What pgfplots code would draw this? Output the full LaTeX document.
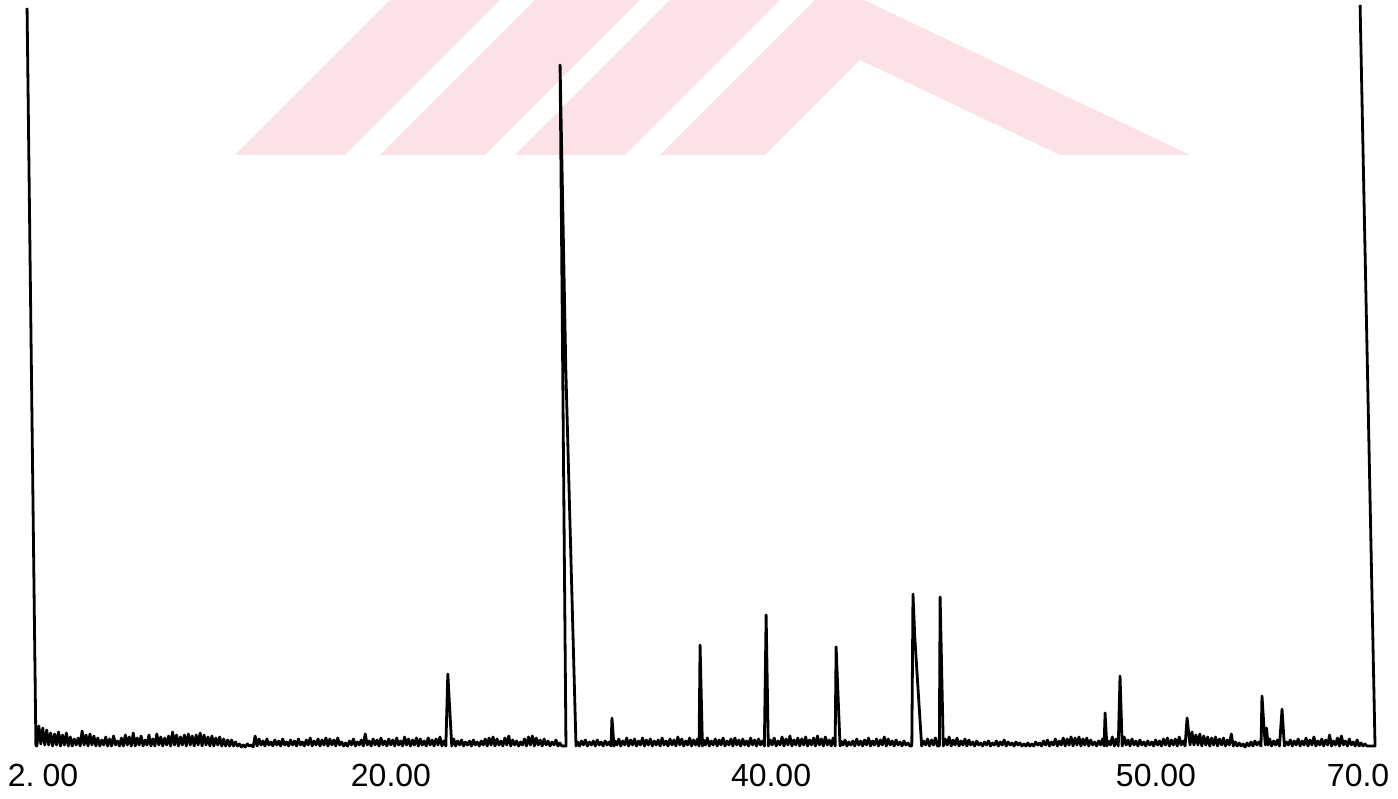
\documentclass[border=0pt]{standalone}
\usepackage{pgfplots}
\pgfplotsset{compat=1.18}
\usepackage{fontspec}
\setmainfont{Liberation Sans}
\definecolor{wmpink}{RGB}{252,226,231}
\begin{document}
\begin{tikzpicture}
\path[use as bounding box] (-31pt,-51pt) rectangle (1367pt,748pt);
% background watermark
\fill[wmpink] (204pt,593pt) -- (314pt,593pt) -- (469pt,748pt) -- (359pt,748pt) -- cycle;
\fill[wmpink] (349pt,593pt) -- (454pt,593pt) -- (609pt,748pt) -- (504pt,748pt) -- cycle;
\fill[wmpink] (484pt,593pt) -- (594pt,593pt) -- (749pt,748pt) -- (639pt,748pt) -- cycle;
\fill[wmpink] (629pt,593pt) -- (784pt,748pt) -- (833pt,748pt) -- (1159pt,593pt) -- (1029pt,593pt) -- (829pt,688pt) -- (734pt,593pt) -- cycle;
\begin{axis}[
  at={(0pt,0pt)}, anchor=south west,
  scale only axis, width=1333pt, height=748pt,
  xmin=2, xmax=69.8, ymin=0, ymax=748,
  clip=false,
  axis line style={draw=none},
  ytick=\empty,
  xtick={2.61,20.31,39.64,59.22,69.5},
  xticklabels={2.\kern8pt00,20.00,40.00,50.00,70.0},
  major tick length=0pt,
  /pgf/number format/assume math mode=true,
  xticklabel style={font=\fontsize{32}{36}\selectfont, anchor=base, yshift=-39pt, inner sep=0pt},
]
\addplot[black, line width=2.8pt, line join=round] coordinates {
(1.8,740)(2.25,2)(2.3,2)(2.4,22)(2.5,4)(2.6,20)(2.7,3)(2.8,18)(2.9,3)(3.0,15)
(3.1,2)(3.2,14)(3.3,3)(3.4,16)(3.5,2)(3.6,13)(3.7,3)(3.8,15)(3.9,2)(4.0,11)
(4.1,2)(4.2,9)(4.3,3)(4.4,10)(4.5,2)(4.6,17)(4.7,3)(4.8,13)(4.9,2)(5.0,14)
(5.1,3)(5.2,12)(5.3,2)(5.4,10)(5.5,2)(5.6,8)(5.7,3)(5.8,11)(5.9,2)(6.0,9)
(6.1,2)(6.2,12)(6.3,3)(6.4,7)(6.5,2)(6.6,10)(6.7,2)(6.8,13)(6.9,3)(7.0,11)
(7.1,2)(7.2,15)(7.3,2)(7.4,10)(7.5,3)(7.6,12)(7.7,2)(7.8,8)(7.9,3)(8.0,13)
(8.1,2)(8.2,9)(8.3,2)(8.4,14)(8.5,3)(8.6,11)(8.7,2)(8.8,10)(8.9,3)(9.0,12)
(9.1,2)(9.2,16)(9.3,3)(9.4,13)(9.5,2)(9.6,11)(9.7,3)(9.8,13)(9.9,2)(10.0,14)
(10.1,3)(10.2,12)(10.3,2)(10.4,13)(10.5,3)(10.6,15)(10.7,2)(10.8,13)(10.9,3)(11.0,11)
(11.1,2)(11.2,12)(11.3,2)(11.4,10)(11.5,3)(11.6,11)(11.7,2)(11.8,9)(11.9,2)(12.0,8)
(12.1,2)(12.2,8)(12.3,2)(12.4,6)(12.5,2)(12.6,4)(12.7,1)(12.8,3)(12.9,1)(13.0,4)
(13.1,2)(13.2,3)(13.3,1)(13.4,12)(13.5,2)(13.6,9)(13.7,3)(13.8,7)(13.9,2)(14.0,9)
(14.1,3)(14.2,6)(14.3,2)(14.4,8)(14.5,3)(14.6,7)(14.7,2)(14.8,9)(14.9,3)(15.0,6)
(15.1,2)(15.2,8)(15.3,3)(15.4,7)(15.5,2)(15.6,9)(15.7,3)(15.8,6)(15.9,2)(16.0,8)
(16.1,3)(16.2,10)(16.3,2)(16.4,7)(16.5,3)(16.6,9)(16.7,2)(16.8,8)(16.9,3)(17.0,10)
(17.1,2)(17.2,9)(17.3,3)(17.4,8)(17.5,2)(17.6,10)(17.7,3)(17.8,6)(17.9,2)(18.0,5)
(18.1,2)(18.2,7)(18.3,3)(18.4,9)(18.5,2)(18.6,6)(18.7,3)(18.8,8)(18.9,2)(19.0,14)
(19.1,3)(19.2,7)(19.3,2)(19.4,9)(19.5,3)(19.6,8)(19.7,2)(19.8,10)(19.9,3)(20.0,7)
(20.1,2)(20.2,9)(20.3,3)(20.4,8)(20.5,2)(20.6,10)(20.7,3)(20.8,7)(20.9,2)(21.0,11)
(21.1,3)(21.2,9)(21.3,2)(21.4,8)(21.5,3)(21.6,10)(21.7,2)(21.8,9)(21.9,3)(22.0,7)
(22.1,2)(22.2,10)(22.3,3)(22.4,8)(22.5,2)(22.6,9)(22.7,3)(22.8,11)(22.9,2)(23.0,7)
(23.1,2)(23.2,74)(23.4,2)
(23.5,9)(23.6,2)(23.7,7)(23.8,3)(23.9,8)(24.0,2)(24.1,6)(24.2,3)(24.3,7)(24.4,2)
(24.5,8)(24.6,3)(24.7,6)(24.8,2)(24.9,7)(25.0,3)(25.1,9)(25.2,2)(25.3,10)(25.4,3)
(25.5,11)(25.6,2)(25.7,9)(25.8,3)(25.9,7)(26.0,2)(26.1,10)(26.2,3)(26.3,12)(26.4,2)
(26.5,8)(26.6,3)(26.7,7)(26.8,2)(26.9,6)(27.0,3)(27.1,9)(27.2,2)(27.3,11)(27.4,3)
(27.5,12)(27.6,2)(27.7,10)(27.8,3)(27.9,8)(28.0,2)(28.1,9)(28.2,3)(28.3,7)(28.4,2)
(28.5,6)(28.6,3)(28.7,8)(28.8,2)(28.9,5)(29.0,2)
(29.21,2)(28.91,683)(29.2,380)(29.72,2)
(29.8,6)(29.9,2)(30.0,7)(30.1,3)(30.2,8)(30.3,2)(30.4,6)(30.5,3)(30.6,7)(30.7,2)
(30.8,8)(30.9,3)(31.0,6)(31.1,2)(31.2,7)(31.3,3)(31.4,6)(31.5,2)(31.55,30)(31.65,2)
(31.7,7)(31.8,3)(31.9,9)(32.0,2)(32.1,7)(32.2,3)(32.3,10)(32.4,2)(32.5,8)(32.6,3)
(32.7,9)(32.8,2)(32.9,7)(33.0,3)(33.1,10)(33.2,2)(33.3,8)(33.4,3)(33.5,9)(33.6,2)
(33.7,7)(33.8,3)(33.9,8)(34.0,2)(34.1,10)(34.2,3)(34.3,7)(34.4,2)(34.5,9)(34.6,3)
(34.7,8)(34.8,2)(34.9,11)(35.0,3)(35.1,9)(35.2,2)(35.3,7)(35.4,3)(35.5,10)(35.6,2)
(35.7,8)(35.8,3)(35.9,9)(35.98,2)(36.03,103)(36.15,2)
(36.2,8)(36.3,3)(36.4,10)(36.5,2)(36.6,7)(36.7,3)(36.8,9)(36.9,2)(37.0,8)(37.1,3)
(37.2,10)(37.3,2)(37.4,7)(37.5,3)(37.6,9)(37.7,2)(37.8,10)(37.9,3)(38.0,8)(38.1,2)
(38.2,9)(38.3,3)(38.4,7)(38.5,2)(38.6,10)(38.7,3)(38.8,8)(38.9,2)(39.0,9)(39.1,3)
(39.2,7)(39.3,2)(39.39,133)(39.5,2)
(39.6,8)(39.7,3)(39.8,10)(39.9,2)(40.0,7)(40.1,3)(40.2,11)(40.3,2)(40.4,9)(40.5,3)
(40.6,12)(40.7,2)(40.8,8)(40.9,3)(41.0,10)(41.1,2)(41.2,9)(41.3,3)(41.4,11)(41.5,2)
(41.6,8)(41.7,3)(41.8,10)(41.9,2)(42.0,12)(42.1,3)(42.2,9)(42.3,2)(42.4,11)(42.5,3)
(42.6,8)(42.7,2)(42.8,10)(42.9,2)(42.95,101)(43.15,2)
(43.2,7)(43.3,3)(43.4,8)(43.5,2)(43.6,6)(43.7,3)(43.8,7)(43.9,2)(44.0,9)(44.1,3)
(44.2,7)(44.3,2)(44.4,8)(44.5,3)(44.6,10)(44.7,2)(44.8,7)(44.9,3)(45.0,9)(45.1,2)
(45.2,8)(45.3,3)(45.4,11)(45.5,2)(45.6,9)(45.7,3)(45.8,7)(45.9,2)(46.0,8)(46.1,3)
(46.2,6)(46.3,2)(46.4,7)(46.5,3)(46.6,5)(46.7,2)(46.8,2)(46.86,154)(46.95,111)(47.3,2)
(47.4,7)(47.5,3)(47.6,9)(47.7,2)(47.8,8)(47.9,3)(48.0,10)(48.1,2)(48.2,2)(48.24,151)(48.4,2)
(48.5,9)(48.6,3)(48.7,11)(48.8,2)(48.9,8)(49.0,3)(49.1,10)(49.2,2)(49.3,7)(49.4,3)
(49.5,9)(49.6,2)(49.7,8)(49.8,3)(49.9,6)(50.0,2)(50.1,7)(50.2,3)(50.3,5)(50.4,2)
(50.5,6)(50.6,3)(50.7,7)(50.8,2)(50.9,5)(51.0,3)(51.1,7)(51.2,2)(51.3,6)(51.4,3)
(51.5,8)(51.6,2)(51.7,6)(51.8,3)(51.9,5)(52.0,2)(52.1,6)(52.2,3)(52.3,5)(52.4,2)
(52.5,4)(52.6,2)(52.7,5)(52.8,2)(52.9,4)(53.0,2)(53.1,6)(53.2,3)(53.3,5)(53.4,2)
(53.5,7)(53.6,3)(53.7,8)(53.8,2)(53.9,6)(54.0,3)(54.1,9)(54.2,2)(54.3,7)(54.4,3)
(54.5,10)(54.6,2)(54.7,9)(54.8,3)(54.9,11)(55.0,2)(55.1,10)(55.2,3)(55.3,11)(55.4,2)
(55.5,9)(55.6,3)(55.7,10)(55.8,2)(55.9,8)(56.0,3)(56.1,6)(56.2,2)(56.3,7)(56.4,3)
(56.5,9)(56.58,2)(56.63,35)(56.72,2)
(56.8,7)(56.9,3)(57.0,11)(57.1,2)(57.2,9)(57.3,2)(57.39,72)(57.5,2)
(57.6,11)(57.7,3)(57.8,8)(57.9,2)(58.0,9)(58.1,3)(58.2,7)(58.3,2)(58.4,8)(58.5,3)
(58.6,6)(58.7,2)(58.8,7)(58.9,3)(59.0,6)(59.1,2)(59.2,8)(59.3,3)(59.4,7)(59.5,2)
(59.6,9)(59.7,3)(59.8,10)(59.9,2)(60.0,8)(60.1,3)(60.2,9)(60.3,2)(60.4,11)(60.5,3)
(60.6,7)(60.7,2)(60.8,30)(60.95,3)(61.05,16)(61.15,3)(61.25,13)(61.35,3)(61.45,14)(61.55,2)
(61.65,12)(61.75,3)(61.85,11)(61.95,2)(62.05,10)(62.15,3)(62.25,11)(62.35,2)(62.45,9)(62.55,3)
(62.65,10)(62.75,2)(62.85,8)(62.95,3)(63.05,14)(63.15,2)(63.25,6)(63.35,2)(63.45,5)(63.55,2)
(63.65,4)(63.75,1)(63.85,5)(63.95,2)(64.05,6)(64.15,2)(64.25,7)(64.35,3)(64.45,6)(64.56,2)
(64.61,52)(64.72,18)(64.78,3)(64.84,20)(64.92,3)(65.0,9)(65.1,2)(65.2,7)(65.3,3)(65.4,8)
(65.5,2)(65.63,39)(65.75,2)
(65.85,6)(65.95,3)(66.05,8)(66.15,2)(66.25,7)(66.35,3)(66.45,9)(66.55,2)(66.65,7)(66.75,3)
(66.85,10)(66.95,2)(67.05,8)(67.15,3)(67.25,11)(67.35,2)(67.45,7)(67.55,3)(67.65,9)(67.75,2)
(67.85,8)(67.95,3)(68.05,13)(68.15,2)(68.25,7)(68.35,3)(68.45,10)(68.55,2)(68.65,12)(68.75,3)
(68.85,7)(68.95,2)(69.05,9)(69.15,3)(69.25,6)(69.35,2)(69.45,8)(69.55,2)(69.65,5)(69.75,2)
(69.85,4)(69.95,2)(70.15,2)(70.36,2)(69.6,743)
};
\end{axis}
\end{tikzpicture}
\end{document}
